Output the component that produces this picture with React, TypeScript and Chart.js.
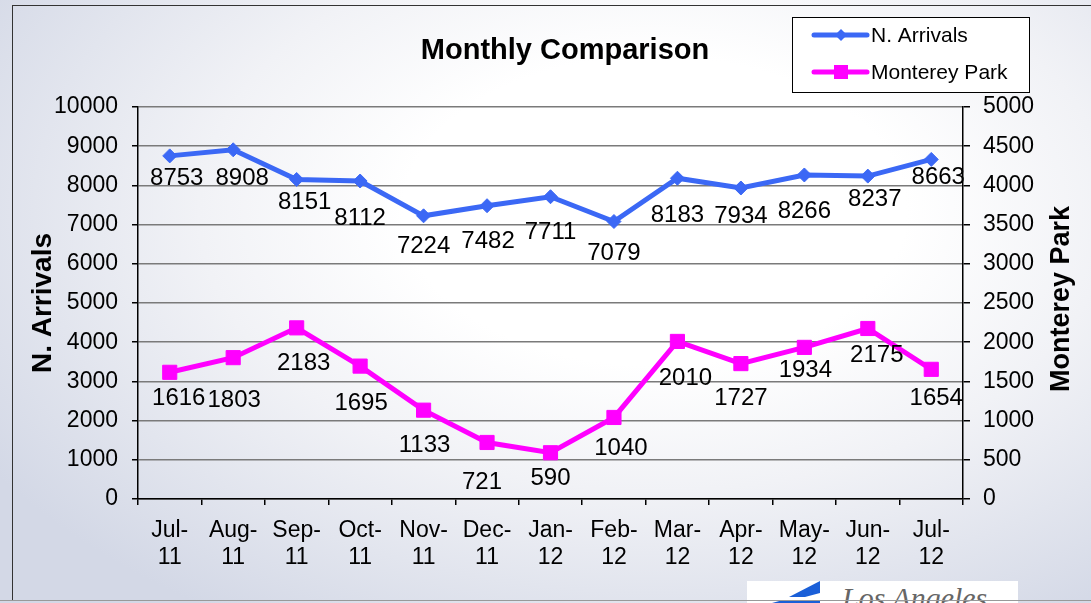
import React, { useEffect, useRef } from "react";
import { Chart, registerables } from "chart.js";

Chart.register(...registerables);

const categories: string[][] = [
  ["Jul-", "11"], ["Aug-", "11"], ["Sep-", "11"], ["Oct-", "11"], ["Nov-", "11"], ["Dec-", "11"],
  ["Jan-", "12"], ["Feb-", "12"], ["Mar-", "12"], ["Apr-", "12"], ["May-", "12"], ["Jun-", "12"], ["Jul-", "12"],
];
const arrivals = [8753, 8908, 8151, 8112, 7224, 7482, 7711, 7079, 8183, 7934, 8266, 8237, 8663];
const montereyPark = [1616, 1803, 2183, 1695, 1133, 721, 590, 1040, 2010, 1727, 1934, 2175, 1654];

const leftMax = 10000;
const leftStep = 1000;
const rightMax = 5000;
const rightStep = 500;

const titleText = "Monthly Comparison";
const seriesNames = ["N. Arrivals", "Monterey Park"];

// label placement offsets (pixels from point) as in the original manual placement
const arrivalsLabelDx = [7, 9, 8, 0, 0, 1, 0, 0, 0, 0, 0, 7, 7];
const arrivalsLabelDy = [19, 26, 20, 34, 28, 33, 33, 29, 34, 25, 33, 20, 15];
const parkLabelDx = [9, 1, 7, 1, 1, -5, 0, 7, 8, 0, 1, 9, 5];
const parkLabelDy = [23, 40, 33, 34, 32, 37, 23, 28, 34, 32, 20, 24, 26];

const BLUE = "#3b68f5";
const MAGENTA = "#ff00ff";
const FONT = '"Liberation Sans", Arial, sans-serif';

const overlayPlugin = {
  id: "overlay",
  afterDatasetsDraw(chart: any) {
    const ctx = chart.ctx;
    ctx.save();
    ctx.font = `24px ${FONT}`;
    ctx.fillStyle = "#000";
    ctx.textAlign = "center";
    ctx.textBaseline = "middle";
    const offs = [
      [arrivalsLabelDx, arrivalsLabelDy, arrivals],
      [parkLabelDx, parkLabelDy, montereyPark],
    ] as any[];
    chart.data.datasets.forEach((_ds: any, di: number) => {
      const meta = chart.getDatasetMeta(di);
      const [dx, dy, vals] = offs[di];
      meta.data.forEach((pt: any, i: number) => {
        ctx.fillText(String(vals[i]), pt.x + dx[i], pt.y + dy[i] + 3);
      });
    });
    ctx.restore();
  },
  afterDraw(chart: any) {
    const ctx = chart.ctx;
    ctx.save();
    // title
    ctx.fillStyle = "#000";
    ctx.textAlign = "center";
    ctx.textBaseline = "middle";
    ctx.font = `bold 29px ${FONT}`;
    ctx.fillText(titleText, 565, 51);
    // axis titles
    ctx.save();
    ctx.font = `bold 28px ${FONT}`;
    ctx.translate(43, 303);
    ctx.rotate(-Math.PI / 2);
    ctx.fillText(seriesNames[0], 0, 0);
    ctx.restore();
    ctx.save();
    ctx.font = `bold 27px ${FONT}`;
    ctx.translate(1062, 299);
    ctx.rotate(-Math.PI / 2);
    ctx.fillText(seriesNames[1], 0, 0);
    ctx.restore();
    // legend
    ctx.fillStyle = "#ffffff";
    ctx.fillRect(792.5, 17.5, 237, 75);
    ctx.strokeStyle = "#000";
    ctx.lineWidth = 1;
    ctx.strokeRect(792.5, 17.5, 237, 75);
    const rows = [
      { y: 35, color: BLUE, name: seriesNames[0], marker: "diamond" },
      { y: 72, color: MAGENTA, name: seriesNames[1], marker: "square" },
    ];
    rows.forEach((r) => {
      ctx.strokeStyle = r.color;
      ctx.lineWidth = 5;
      ctx.lineCap = "round";
      ctx.beginPath();
      ctx.moveTo(814, r.y);
      ctx.lineTo(867, r.y);
      ctx.stroke();
      ctx.fillStyle = r.color;
      ctx.beginPath();
      if (r.marker === "diamond") {
        ctx.moveTo(841, r.y - 6);
        ctx.lineTo(847, r.y);
        ctx.lineTo(841, r.y + 6);
        ctx.lineTo(835, r.y);
        ctx.closePath();
        ctx.fill();
      } else {
        ctx.fillRect(834, r.y - 7, 14, 14);
      }
      ctx.fillStyle = "#000";
      ctx.textAlign = "left";
      ctx.font = `21px ${FONT}`;
      ctx.fillText(r.name, 871, r.y + 1);
    });
    ctx.restore();
  },
};

export default function App() {
  const canvasRef = useRef<HTMLCanvasElement | null>(null);

  useEffect(() => {
    if (!canvasRef.current) return;
    const plain = (v: any) => String(v);
    const chart = new Chart(canvasRef.current, {
      type: "line",
      data: {
        labels: categories,
        datasets: [
          {
            label: seriesNames[0],
            data: arrivals,
            yAxisID: "y",
            borderColor: BLUE,
            backgroundColor: BLUE,
            borderWidth: 5,
            pointStyle: "rectRot",
            pointRadius: 7,
            pointBorderWidth: 1,
            tension: 0,
          },
          {
            label: seriesNames[1],
            data: montereyPark,
            yAxisID: "y1",
            borderColor: MAGENTA,
            backgroundColor: MAGENTA,
            borderWidth: 5,
            pointStyle: "rect",
            pointRadius: 10,
            pointBorderWidth: 1,
            tension: 0,
          },
        ],
      },
      options: {
        responsive: false,
        animation: false,
        layout: { padding: { top: 107, left: 0, right: 0, bottom: 0 } },
        plugins: {
          legend: { display: false },
          title: { display: false },
          tooltip: { enabled: false },
        },
        scales: {
          x: {
            type: "category",
            offset: true,
            grid: {
              offset: true,
              drawOnChartArea: false,
              tickLength: 6,
              color: "#000",
              lineWidth: 1.5,
            },
            border: { color: "#000", width: 1.5 },
            ticks: {
              color: "#000",
              font: { family: FONT, size: 23, lineHeight: 1.18 },
              padding: 12,
              maxRotation: 0,
              minRotation: 0,
              autoSkip: false,
            },
            afterFit: (s: any) => {
              s.height = 104;
            },
          },
          y: {
            position: "left",
            min: 0,
            max: leftMax,
            ticks: {
              stepSize: leftStep,
              color: "#000",
              font: { family: FONT, size: 23 },
              padding: 14,
              callback: plain,
            },
            grid: {
              color: "#7a7a7a",
              lineWidth: 1.5,
              tickLength: 6,
              tickColor: "#000",
            },
            border: { color: "#000", width: 1.5 },
            afterFit: (s: any) => {
              s.width = 138;
            },
          },
          y1: {
            position: "right",
            min: 0,
            max: rightMax,
            ticks: {
              stepSize: rightStep,
              color: "#000",
              font: { family: FONT, size: 23 },
              padding: 13,
              callback: plain,
            },
            grid: {
              drawOnChartArea: false,
              tickLength: 7,
              color: "#000",
              lineWidth: 1.5,
            },
            border: { color: "#000", width: 1.5 },
            afterFit: (s: any) => {
              s.width = 128;
            },
          },
        },
      } as any,
      plugins: [overlayPlugin],
    });
    return () => chart.destroy();
  }, []);

  return (
    <div
      style={{
        position: "absolute",
        left: 0,
        top: 0,
        width: 1091,
        height: 603,
        overflow: "hidden",
        background:
          "radial-gradient(ellipse 72% 80% at 60% 35%, #ffffff 0%, #ffffff 32%, #f1f2f6 58%, #d3d8e6 100%)",
      }}
    >
      <div
        style={{
          position: "absolute",
          left: 12,
          top: 5,
          width: 1100,
          height: 596,
          border: "1px solid #333",
          boxSizing: "border-box",
        }}
      />
      <div
        style={{
          position: "absolute",
          left: 747,
          top: 581,
          width: 271,
          height: 22,
          background: "#ffffff",
          overflow: "hidden",
        }}
      >
        <svg width="80" height="22" style={{ position: "absolute", left: 0, top: 0 }}>
          <polygon points="42,16 73,0 73,12 58,16" fill="#1a5fd8" />
          <polygon points="25,22 36,19 73,19 73,22" fill="#1a5fd8" />
        </svg>
        <div
          style={{
            position: "absolute",
            left: 95,
            top: 2,
            fontFamily: '"Liberation Serif", "DejaVu Serif", serif',
            fontStyle: "italic",
            fontSize: 30,
            lineHeight: "30px",
            color: "#666",
            whiteSpace: "nowrap",
          }}
        >
          Los Angeles
        </div>
      </div>
      <div
        style={{
          position: "absolute",
          left: 0,
          top: 600,
          width: 1091,
          height: 1,
          background: "#999",
        }}
      />
      <canvas ref={canvasRef} width={1091} height={603} style={{ position: "absolute", left: 0, top: 0 }} />
    </div>
  );
}
